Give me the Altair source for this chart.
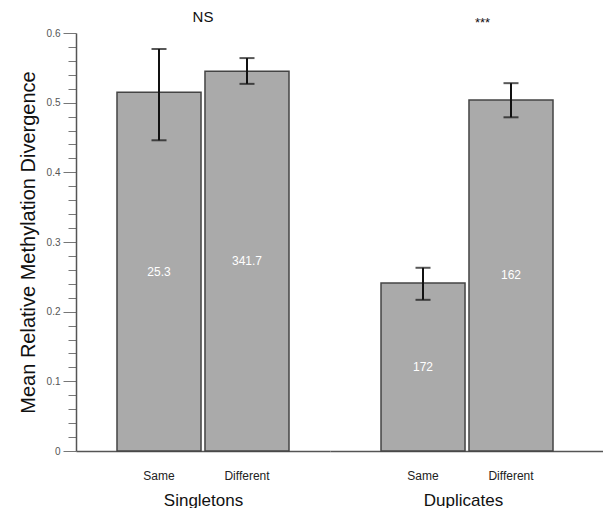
import altair as alt
import pandas as pd

groups = ["Singletons", "Singletons", "Duplicates", "Duplicates"]
conditions = ["Same", "Different", "Same", "Different"]
means = [0.515, 0.545, 0.241, 0.504]
lowers = [0.446, 0.527, 0.217, 0.479]
uppers = [0.577, 0.564, 0.263, 0.528]
counts = ["25.3", "341.7", "172", "162"]
significance = {"Singletons": "NS", "Duplicates": "***"}
y_ticks = [round(i * 0.02, 2) for i in range(31)]

df = pd.DataFrame({"group": groups, "condition": conditions, "mean": means,
                   "lower": lowers, "upper": uppers, "count": counts})

FONT = "Liberation Sans"
is_major = "abs(datum.value*10 - round(datum.value*10)) < 0.001"

def panel(group, width, pad_outer, align, show_y, title_x, title_dx, title_size):
    d = df[df["group"] == group]
    xscale = alt.Scale(domain=["Same", "Different"], paddingInner=0.045,
                       paddingOuter=pad_outer, align=align)
    yscale = alt.Scale(domain=[0, 0.6], nice=False)
    if show_y:
        yaxis = alt.Axis(values=y_ticks, tickCount=100, format=".1~f",
                         labelExpr=f"{is_major} ? datum.label : ''",
                         labelOverlap=False, labelFlush=False, labelBound=False,
                         tickSize={"condition": {"test": is_major, "value": 13}, "value": 8},
                         tickColor="#777", domainColor="#555", domainWidth=1.5,
                         labelColor="#555", labelFontSize=10, labelFont=FONT,
                         labelPadding=3, grid=False,
                         title="Mean Relative Methylation Divergence",
                         titleFont=FONT, titleFontSize=20, titleFontWeight="normal",
                         titleColor="#111", titlePadding=8)
    else:
        yaxis = None
    xaxis = alt.Axis(labelAngle=0, ticks=False, domainColor="#555", domainWidth=1.5,
                     labelFont=FONT, labelFontSize=12, labelColor="#222", labelPadding=19,
                     title=group, titleFont=FONT, titleFontSize=17,
                     titleFontWeight="normal", titleColor="#111", titlePadding=11,
                     titleX=title_x)
    base = alt.Chart(d)
    x = alt.X("condition:N", scale=xscale, axis=xaxis, sort=["Same", "Different"])
    bars = base.mark_bar(color="#aaaaaa", stroke="#444", strokeWidth=1.5).encode(
        x=x, y=alt.Y("mean:Q", scale=yscale, axis=yaxis))
    rule = base.mark_rule(color="#111", strokeWidth=2).encode(
        x=alt.X("condition:N", sort=["Same", "Different"]), y="lower:Q", y2="upper:Q")
    cap_lo = base.mark_tick(color="#111", thickness=2, size=15).encode(
        x=alt.X("condition:N", sort=["Same", "Different"]), y="lower:Q")
    cap_hi = base.mark_tick(color="#111", thickness=2, size=15).encode(
        x=alt.X("condition:N", sort=["Same", "Different"]), y="upper:Q")
    labels = base.transform_calculate(
        ly="min(0.28, datum.mean / 2)"
    ).mark_text(color="white", font=FONT, fontSize=12).encode(
        x=alt.X("condition:N", sort=["Same", "Different"]), y="ly:Q", text="count:N")
    return alt.layer(bars, rule, cap_lo, cap_hi, labels).properties(
        width=width, height=418,
        title=alt.TitleParams(significance[group], font=FONT, fontSize=title_size,
                              fontWeight="normal", color="#111", dx=title_dx,
                              offset=3))

left = panel("Singletons", 254, 0.466, 0.5, True, 127, 0, 15)
right = panel("Duplicates", 273, 0.574, 0.505, False, 133, 16, 13)

chart = alt.hconcat(left, right, spacing=0).properties(
    padding={"left": 10, "top": 2, "right": 0, "bottom": 0}
).configure_view(stroke=None).configure_concat(spacing=0)

chart.save("out.html", embed_options={"renderer": "svg", "actions": False})
